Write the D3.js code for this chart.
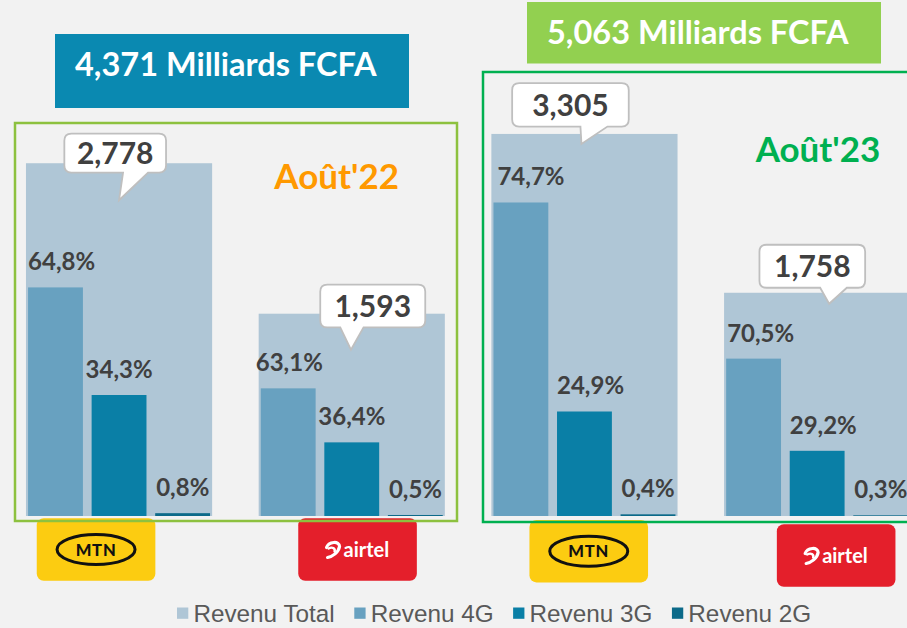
<!DOCTYPE html>
<html><head><meta charset="utf-8">
<script src="https://cdnjs.cloudflare.com/ajax/libs/d3/7.8.5/d3.min.js"></script>
<style>
html,body{margin:0;padding:0;background:#f2f2f2;}
svg{display:block;}
</style></head>
<body>
<script>
// ---- DATA ----
const periods = ["Août'22", "Août'23"];
const periodTotals = ["4,371 Milliards FCFA", "5,063 Milliards FCFA"];
const operators = ["MTN", "airtel", "MTN", "airtel"];
const chartKeys = ["MTN-22", "airtel-22", "MTN-23", "airtel-23"];
const totalRevenue = [2778, 1593, 3305, 1758];
const share4G = [64.8, 63.1, 74.7, 70.5];
const share3G = [34.3, 36.4, 24.9, 29.2];
const share2G = [0.8, 0.5, 0.4, 0.3];
const totalLabels = ["2,778", "1,593", "3,305", "1,758"];
const seriesNames = ["Revenu Total", "Revenu 4G", "Revenu 3G", "Revenu 2G"];
const subSeries = ["4G", "3G", "2G"];
const primaryAxisMax = 3150;
const totalAxisMax = [3150, 3150, 3460, 3150];

// ---- STYLE / LAYOUT ----
const W = 907, H = 628;
const colors = {"Revenu Total": "#afc6d6", "4G": "#68a1c0", "3G": "#0a7fa6", "2G": "#0c6a89"};
const textDark = "#404040";
const fontBold = "'Lato', 'DejaVu Sans', sans-serif";
const baseY = 516, topY = 116;
const pctLabelDx = [[0, -6, 1], [-5, -6, 1], [4, 0, 1], [1, 0, 1]];
const callout = [
  {bx: -54.7, by: -29.7, w: 101.7, h: 39, t0: 4, t1: 29, ax: 0, ay: 37},
  {bx: -31.5, by: -29, w: 105, h: 42.7, t0: -11.5, t1: 11.8, ax: -0.8, ay: 36},
  {bx: -72.3, by: -50.7, w: 116.6, h: 43.4, t0: -4, t1: 23, ax: -3, ay: 10},
  {bx: -57.7, by: -48, w: 105.7, h: 43, t0: 3, t1: 29.7, ax: 12, ay: 11}
];
const logoPos = [
  {dx: -82.3, y: 518.3}, {dx: -53.5, y: 518.3}, {dx: -55, y: 520}, {dx: -40.3, y: 524.3}
];
const titleBoxes = [
  {x: 55, y: 34, w: 354, h: 74, fill: "#0a89b1"},
  {x: 527, y: 2, w: 354, h: 61.5, fill: "#92d050"}
];
const frames = [
  {x: 15, y: 123, w: 442, h: 398, stroke: "#8dc13f"},
  {x: 483, y: 72, w: 445, h: 450, stroke: "#00b050"}
];
const periodLabelPos = [
  {x: 336.7, y: 189, fill: "#ff9900"},
  {x: 818, y: 162.3, fill: "#00b050"}
];

const svg = d3.select("body").append("svg").attr("width", W).attr("height", H);

const x = d3.scaleBand().domain(chartKeys).range([2.7, 933.5]).paddingInner(0.2).paddingOuter(0.1);
const xSub = d3.scaleBand().domain(subSeries).range([0, x.bandwidth()]).paddingInner(0.137).paddingOuter(0.033);
const y = d3.scaleLinear().domain([0, primaryAxisMax]).range([baseY, topY]);
const yTotal = totalAxisMax.map(m => d3.scaleLinear().domain([0, m]).range([baseY, topY]));

// Title boxes
titleBoxes.forEach((b, i) => {
  svg.append("rect").attr("x", b.x).attr("y", b.y).attr("width", b.w).attr("height", b.h).attr("fill", b.fill);
  svg.append("text").attr("x", b.x + 20).attr("y", b.y + 42)
    .attr("fill", "#fff").attr("font-family", fontBold).attr("font-weight", 700)
    .attr("font-size", 32.5).text(periodTotals[i]);
});

// Bars
const chartData = chartKeys.map((k, i) => ({
  key: k, i, total: totalRevenue[i],
  subs: [share4G[i], share3G[i], share2G[i]].map((p, j) => ({s: subSeries[j], pct: p, value: totalRevenue[i] * p / 100}))
}));

const g = svg.append("g");
g.selectAll("rect.total").data(chartData).join("rect").attr("class", "total")
  .attr("x", d => x(d.key)).attr("width", x.bandwidth())
  .attr("y", d => yTotal[d.i](d.total)).attr("height", d => baseY - yTotal[d.i](d.total))
  .attr("fill", colors["Revenu Total"]);

chartData.forEach(d => {
  const gx = x(d.key);
  d.subs.forEach((s, j) => {
    const bx = gx + xSub(s.s);
    g.append("rect").attr("x", bx).attr("width", xSub.bandwidth())
      .attr("y", y(s.value)).attr("height", baseY - y(s.value)).attr("fill", colors[s.s]);
    g.append("text").attr("x", bx + pctLabelDx[d.i][j]).attr("y", y(s.value) - 17)
      .attr("fill", textDark).attr("font-family", fontBold).attr("font-weight", 700)
      .attr("font-size", 24).text(String(s.pct.toFixed(1)).replace(".", ",") + "%");
  });
});

// Logos
chartData.forEach(d => {
  const cx = x(d.key) + x.bandwidth() / 2;
  const p = logoPos[d.i];
  const lx = cx + p.dx, ly = p.y, lw = 118.6, lh = 62.4;
  const lg = svg.append("g");
  if (operators[d.i] === "MTN") {
    lg.append("rect").attr("x", lx).attr("y", ly).attr("width", lw).attr("height", lh).attr("rx", 7).attr("fill", "#fccc11");
    lg.append("ellipse").attr("cx", lx + lw / 2).attr("cy", ly + lh / 2).attr("rx", 39).attr("ry", 15)
      .attr("fill", "none").attr("stroke", "#111").attr("stroke-width", 3);
    lg.append("text").attr("x", lx + lw / 2).attr("y", ly + lh / 2 + 6).attr("text-anchor", "middle")
      .attr("font-family", fontBold).attr("font-weight", 900).attr("font-size", 16.5).attr("letter-spacing", 0.8)
      .attr("fill", "#111").text("MTN");
  } else {
    lg.append("rect").attr("x", lx).attr("y", ly).attr("width", lw).attr("height", lh).attr("rx", 7).attr("fill", "#e41f2b");
    const sx = lx + lw / 2 - 31, sy = ly + lh / 2;
    lg.append("path")
      .attr("d", `M${sx},${sy - 2} C${sx + 2},${sy - 8} ${sx + 13},${sy - 9} ${sx + 13},${sy - 3} C${sx + 12},${sy + 3} ${sx + 6},${sy + 7} ${sx + 1},${sy + 8}`)
      .attr("fill", "none").attr("stroke", "#fff").attr("stroke-width", 3.2).attr("stroke-linecap", "round");
    lg.append("path")
      .attr("d", `M${sx + 2},${sy - 1} C${sx + 6},${sy - 3} ${sx + 9},${sy - 1} ${sx + 8},${sy + 2}`)
      .attr("fill", "none").attr("stroke", "#fff").attr("stroke-width", 2.4).attr("stroke-linecap", "round");
    lg.append("text").attr("x", sx + 17).attr("y", sy + 7)
      .attr("font-family", fontBold).attr("font-weight", 700).attr("font-size", 20)
      .attr("fill", "#fff").text("airtel");
  }
});

// Frames
frames.forEach(f => {
  svg.append("rect").attr("x", f.x).attr("y", f.y).attr("width", f.w).attr("height", f.h)
    .attr("fill", "none").attr("stroke", f.stroke).attr("stroke-width", 2.5);
});

// Callouts
chartData.forEach(d => {
  const c = callout[d.i];
  const cx = x(d.key) + x.bandwidth() / 2;
  const top = yTotal[d.i](d.total);
  const L = cx + c.bx, T = top + c.by, R = L + c.w, B = T + c.h, r = 7;
  const path = `M${L + r},${T} H${R - r} Q${R},${T} ${R},${T + r} V${B - r} Q${R},${B} ${R - r},${B} H${cx + c.t1} L${cx + c.ax},${top + c.ay} L${cx + c.t0},${B} H${L + r} Q${L},${B} ${L},${B - r} V${T + r} Q${L},${T} ${L + r},${T} Z`;
  svg.append("path").attr("d", path).attr("fill", "#fff").attr("stroke", "#bfbfbf").attr("stroke-width", 1.8);
  svg.append("text").attr("x", L + c.w / 2).attr("y", T + c.h / 2 + 11).attr("text-anchor", "middle")
    .attr("fill", textDark).attr("font-family", fontBold).attr("font-weight", 700).attr("font-size", 30)
    .text(totalLabels[d.i]);
});

// Period labels
periods.forEach((p, i) => {
  const pos = periodLabelPos[i];
  svg.append("text").attr("x", pos.x).attr("y", pos.y).attr("text-anchor", "middle")
    .attr("fill", pos.fill).attr("font-family", fontBold).attr("font-weight", 700).attr("font-size", 35).text(p);
});

// Legend
const legendColors = [colors["Revenu Total"], colors["4G"], colors["3G"], colors["2G"]];
let lxPos = 177;
seriesNames.forEach((n, i) => {
  svg.append("rect").attr("x", lxPos).attr("y", 607.5).attr("width", 11.3).attr("height", 11.3).attr("fill", legendColors[i]);
  const t = svg.append("text").attr("x", lxPos + 16.4).attr("y", 622)
    .attr("font-family", "'Liberation Sans', Arial, sans-serif")
    .attr("font-size", 24.3).attr("fill", "#595959").text(n);
  lxPos += 16.4 + t.node().getComputedTextLength() + 19.5;
});
</script>
</body></html>
